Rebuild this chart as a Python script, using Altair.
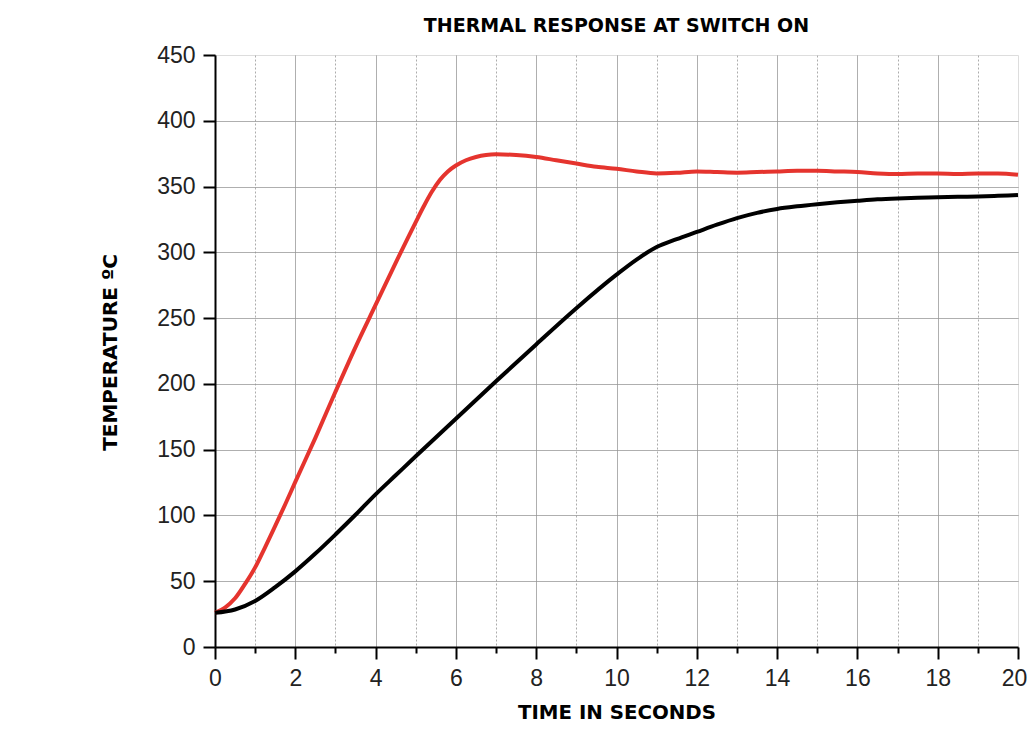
import altair as alt
import pandas as pd

# Time (s) and temperature (°C)
red_t = [0, 0.25, 0.5, 0.75, 1, 1.25, 1.5, 1.75, 2, 2.5, 3, 3.5, 4, 4.5, 5, 5.2, 5.4, 5.6, 5.8, 6,
         6.25, 6.5, 6.75, 7, 7.5, 8, 8.5, 9, 9.5, 10, 10.5, 11, 11.5, 12, 12.5, 13, 13.5, 14, 14.5, 15,
         15.5, 16, 16.5, 17, 17.5, 18, 18.5, 19, 19.5, 20]
red_v = [26, 30, 37, 48, 60.5, 76, 92, 108.5, 125.5, 159, 194, 228, 260, 292, 323, 335, 346, 355, 361.5, 366,
         370, 372.5, 374, 374.5, 374, 372.5, 370, 367.5, 365, 363.5, 361.5, 360, 360.5, 361.5, 361, 360.5, 361, 361.5, 362, 362,
         361.5, 361, 360, 359.5, 360, 360, 359.5, 360, 360, 359]

black_t = [0, 0.5, 1, 1.5, 2, 2.5, 3, 3.5, 4, 4.5, 5, 6, 7, 8, 9, 10, 10.5, 11, 11.5, 12, 12.5,
           13, 13.5, 14, 14.5, 15, 15.5, 16, 16.5, 17, 17.5, 18, 18.5, 19, 19.5, 20]
black_v = [26, 28.5, 35, 45.5, 57.5, 71, 85.5, 100.5, 116, 130.5, 145, 173.5, 202, 230, 257.5, 283, 294.5, 304, 310, 315.5, 321,
           326, 330, 333, 335, 336.6, 338, 339.2, 340.3, 341, 341.5, 341.8, 342.2, 342.5, 343, 343.5]

x_ticks = list(range(0, 21))
y_ticks = list(range(0, 451, 25))

df_red = pd.DataFrame({"t": red_t, "v": red_v})
df_black = pd.DataFrame({"t": black_t, "v": black_v})

x_axis = alt.Axis(
    values=x_ticks,
    title="TIME IN SECONDS",
    labelExpr="datum.value % 2 === 0 ? datum.label : ''",
    tickSize={"condition": {"test": "datum.value % 2 === 0", "value": 12}, "value": 6},
    tickWidth=2, tickColor="black",
    domainColor="black", domainWidth=2,
    gridColor={"condition": {"test": "datum.value % 2 === 0", "value": "#949494"}, "value": "#acacac"},
    gridDash={"condition": {"test": "datum.value % 2 === 0", "value": [1, 0]}, "value": [2, 2]},
    gridOpacity={"condition": {"test": "datum.value >= 20", "value": 0}, "value": 1},
    gridWidth=1,
    labelFont="Liberation Sans", labelFontSize=23, labelColor="#222222",
    labelPadding=8, labelFlush=False, labelOverlap=False,
    labelOffset={"condition": {"test": "datum.value >= 20", "value": -4}, "value": 0},
    titleFont="DejaVu Sans", titleFontSize=19.8, titleFontWeight="bold", titleColor="black",
    titleX=401.5, titleY=65, titleBaseline="middle", titleAlign="center",
)

y_axis = alt.Axis(
    values=y_ticks,
    title="TEMPERATURE ºC",
    labelExpr="datum.value % 50 === 0 ? datum.label : ''",
    tickSize={"condition": {"test": "datum.value % 50 === 0", "value": 12}, "value": 7},
    tickWidth=2, tickColor="black",
    domainColor="black", domainWidth=2,
    gridColor={"condition": {"test": "datum.value % 50 === 0", "value": "#949494"}, "value": "#acacac"},
    gridDash={"condition": {"test": "datum.value % 50 === 0", "value": [1, 0]}, "value": [2, 2]},
    gridOpacity={"condition": {"test": "datum.value >= 450", "value": 0}, "value": 1},
    gridWidth=1,
    labelFont="Liberation Sans", labelFontSize=23, labelColor="#222222",
    labelPadding=8, labelFlush=False, labelOverlap=False,
    titleFont="DejaVu Sans", titleFontSize=20, titleFontWeight="bold", titleColor="black",
    titleX=-105, titleY=297, titleAngle=-90, titleBaseline="middle", titleAlign="center",
)

xs = alt.Scale(domain=[0, 20], nice=False, zero=False)
ys = alt.Scale(domain=[0, 450], nice=False, zero=False)

red = alt.Chart(df_red).mark_line(color="#e5342e", strokeWidth=4, interpolate="monotone").encode(
    x=alt.X("t:Q", scale=xs, axis=x_axis),
    y=alt.Y("v:Q", scale=ys, axis=y_axis),
)
black = alt.Chart(df_black).mark_line(color="#000000", strokeWidth=4, interpolate="monotone").encode(
    x=alt.X("t:Q", scale=xs),
    y=alt.Y("v:Q", scale=ys),
)

chart = alt.layer(red, black).properties(
    width=803, height=592,
    autosize=alt.AutoSizeParams(type="none"),
    padding={"left": 207, "top": 47, "right": 9, "bottom": 76},
    title=alt.TitleParams(
        "THERMAL RESPONSE AT SWITCH ON",
        font="DejaVu Sans", fontSize=19, fontWeight="bold", color="black",
        anchor="middle", frame="group", baseline="alphabetic", offset=13, dy=20,
    ),
).configure_view(stroke=None).configure(background="white")

chart.save("out.html", embed_options={"renderer": "svg", "actions": False})
